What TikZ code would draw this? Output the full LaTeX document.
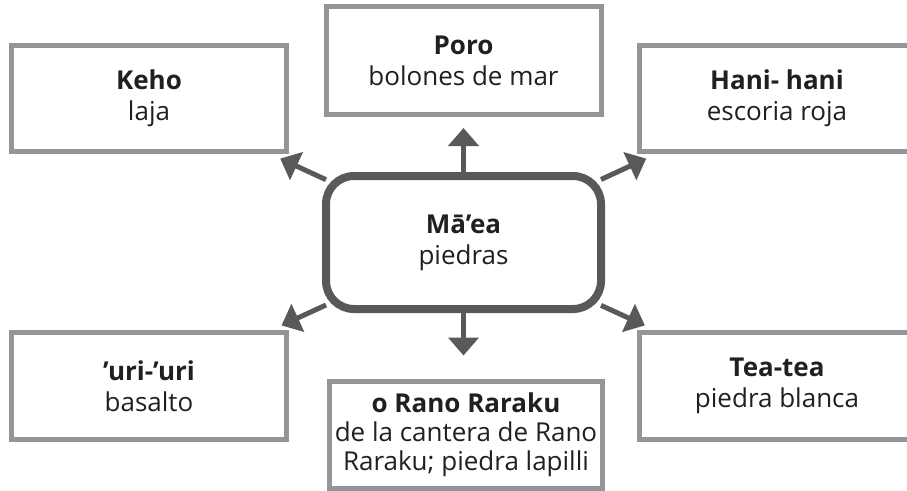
\documentclass[tikz,border=0pt]{standalone}
\usepackage{fontspec}
\setmainfont{Open Sans}
\usepackage{tikz}
\usetikzlibrary{positioning,arrows.meta,calc}
\definecolor{boxgray}{HTML}{939598}
\definecolor{arrgray}{HTML}{58595B}
\definecolor{txtblack}{HTML}{231F20}
\tikzset{
  treenode/.style = {align=center, inner sep=0pt, text centered,
    font=\fontsize{26}{31}\selectfont, text=txtblack, fill=white, outer sep=0pt},
  box_g/.style = {treenode, rectangle, draw=boxgray, line width=5pt,
    minimum width=275pt, minimum height=107pt},% recuadro gris
  box_c/.style = {treenode, rectangle, rounded corners=28pt, draw=arrgray,
    line width=8pt, minimum width=275pt, minimum height=133pt},% recuadro central
  arr/.style = {->, draw=arrgray, line width=5pt}
}

\begin{document}
\begin{tikzpicture}[x=1pt,y=-1pt,>={Triangle[width=30pt,length=18pt]}]
\useasboundingbox (0,0) rectangle (907,490);
% centro
\node [box_c] (maea) at (463.5,242.5) {\textbf{Mā’ea}\\piedras};
% arriba
\node [box_g, minimum height=108pt] (poro) at (463.5,60.5) {\textbf{Poro}\\bolones de mar};
\node [box_g, minimum height=106pt] (keho) at (149,98.5) {\textbf{Keho}\\laja};
\node [box_g, minimum height=106pt] (hani) at (777,98.5) {\textbf{Hani- hani}\\escoria roja};
% abajo
\node [box_g] (uri) at (149,386) {\textbf{’uri-’uri}\\basalto};
\node [box_g] (tea) at (777,386) {\textbf{Tea-tea}\\piedra blanca};
\node [box_g, minimum width=273pt, font=\fontsize{26}{29}\selectfont] (rano) at (466,434.5)
  {\textbf{o Rano Raraku}\\de la cantera de Rano\\Raraku; piedra lapilli};
% flechas
\draw [arr, shorten >=13.5pt] (maea) -- (poro);
\draw [arr, shorten >=25.5pt] (maea) -- (maea |- rano.north);
\draw [arr, shorten >=17pt] (maea) -- (keho);
\draw [arr, shorten >=17pt] (maea) -- (hani);
\draw [arr, shorten >=17pt] (maea) -- (uri);
\draw [arr, shorten >=17pt] (maea) -- (tea);
\end{tikzpicture}
\end{document}
